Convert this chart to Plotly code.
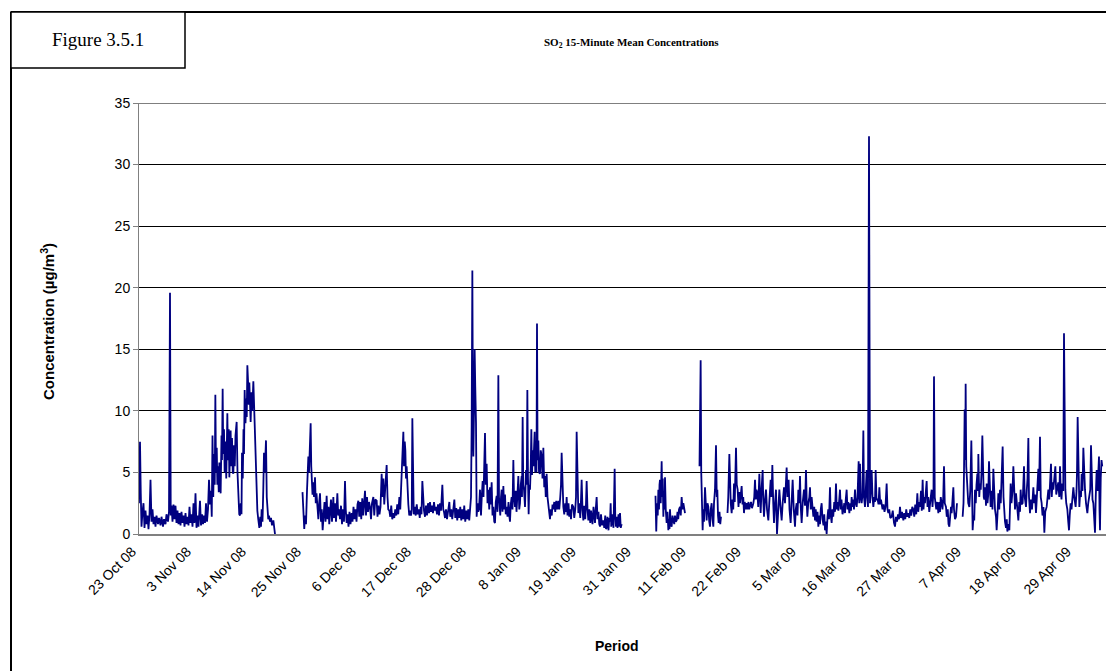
import plotly.graph_objects as go

# ---------------- data (x = day offset on the category axis from 23 Oct 08, y = SO2 µg/m3) -------------
tick_days = [0, 11, 22, 33, 44, 55, 66, 77, 88, 99, 110, 121, 132, 143, 154, 165, 176, 187]
tick_labels = ["23 Oct 08", "3 Nov 08", "14 Nov 08", "25 Nov 08", "6 Dec 08", "17 Dec 08",
               "28 Dec 08", "8 Jan 09", "19 Jan 09", "31 Jan 09", "11 Feb 09", "22 Feb 09",
               "5 Mar 09", "16 Mar 09", "27 Mar 09", "7 Apr 09", "18 Apr 09", "29 Apr 09"]

seg_a = [(0.0, 2.5), (0.2, 7.5), (0.35, 3.4), (0.5, 0.6), (0.7, 1.8), (0.9, 2.5), (1.1, 0.5), (1.3, 1.9),
         (1.5, 0.8), (1.7, 1.5), (1.9, 0.4), (2.1, 1.6), (2.3, 4.4), (2.5, 1.0), (2.7, 2.0), (2.9, 0.8),
         (3.1, 1.4), (3.3, 0.6), (3.5, 1.5), (3.8, 0.8), (4.0, 1.3), (4.3, 0.7), (4.5, 1.4), (4.8, 0.6),
         (5.0, 1.2), (5.3, 0.8), (5.5, 1.6), (5.8, 1.0), (6.0, 1.8), (6.2, 19.6), (6.35, 1.5), (6.5, 2.3),
         (6.7, 1.0), (6.9, 2.4), (7.1, 1.2), (7.3, 2.3), (7.5, 0.9), (7.7, 1.9), (7.9, 0.8), (8.1, 1.7),
         (8.3, 0.7), (8.5, 1.8), (8.7, 0.9), (8.9, 1.5), (9.1, 0.6), (9.3, 1.7), (9.5, 0.8), (9.7, 1.4),
         (9.9, 0.7), (10.1, 2.2), (10.3, 0.9), (10.5, 1.6), (10.7, 0.6), (10.9, 2.5), (11.1, 0.9),
         (11.3, 3.3), (11.5, 0.5), (11.7, 1.5), (11.9, 0.6), (12.2, 2.7), (12.4, 0.7), (12.6, 1.6),
         (12.8, 0.8), (13.0, 1.5), (13.2, 0.9), (13.4, 2.5), (13.6, 1.0), (13.8, 2.0), (14.0, 4.4),
         (14.2, 2.4), (14.4, 3.5), (14.55, 1.4), (14.7, 8.0), (14.85, 3.0), (15.0, 6.5), (15.15, 4.0),
         (15.27, 11.3), (15.4, 5.0), (15.55, 7.0), (15.67, 4.0), (15.8, 5.5), (15.95, 3.4), (16.07, 5.8),
         (16.2, 4.8), (16.33, 3.3), (16.5, 8.0), (16.6, 6.0), (16.73, 11.8), (16.85, 6.5), (17.0, 8.5),
         (17.13, 5.0), (17.3, 7.5), (17.45, 4.5), (17.55, 6.8), (17.67, 9.8), (17.8, 6.0), (17.95, 8.5),
         (18.07, 4.6), (18.2, 7.0), (18.33, 8.4), (18.45, 5.5), (18.6, 7.8), (18.75, 5.0), (18.87, 4.9),
         (19.0, 7.2), (19.15, 5.5), (19.3, 8.0), (19.53, 9.1), (19.7, 5.0), (19.87, 2.4), (20.05, 1.6),
         (20.2, 1.5), (20.35, 2.5), (20.5, 1.6), (20.6, 6.6), (20.75, 4.5), (20.9, 8.5), (21.0, 6.5),
         (21.13, 11.7), (21.3, 9.0), (21.45, 11.0), (21.55, 9.5), (21.67, 13.7), (21.8, 12.5), (21.95, 10.5),
         (22.07, 12.3), (22.2, 10.0), (22.33, 9.1), (22.5, 11.5), (22.65, 10.0), (22.87, 12.4), (23.0, 10.5),
         (23.2, 9.0), (23.4, 5.4), (23.55, 3.0), (23.67, 1.9), (23.85, 1.2), (24.07, 0.5), (24.25, 1.4),
         (24.4, 0.6), (24.53, 2.0), (24.7, 1.0), (24.85, 3.5), (25.0, 6.6), (25.15, 5.0), (25.4, 7.6),
         (25.55, 3.0), (25.67, 1.6), (25.85, 1.2), (26.0, 1.5), (26.2, 1.0), (26.4, 1.3), (26.6, 0.7),
         (26.87, 1.1), (27.0, 0.5), (27.2, 0.0)]

seg_b = [(32.7, 3.4), (32.9, 1.0), (33.05, 0.4), (33.2, 1.5), (33.4, 0.8), (33.6, 3.5), (33.75, 5.5),
         (33.87, 6.3), (34.0, 5.0), (34.15, 7.0), (34.33, 9.0), (34.45, 5.5), (34.53, 4.1), (34.7, 3.2),
         (34.85, 4.2), (35.0, 3.0), (35.2, 4.6), (35.35, 2.5), (35.5, 3.3), (35.7, 1.8), (35.87, 1.2),
         (36.05, 2.6), (36.2, 3.3), (36.4, 1.0), (36.55, 2.0), (36.73, 0.3), (36.9, 1.5), (37.1, 2.6),
         (37.3, 1.0), (37.53, 3.1), (37.7, 1.2), (37.9, 2.2), (38.05, 0.8), (38.2, 1.4), (38.4, 2.8),
         (38.6, 1.0), (38.87, 3.0), (39.0, 1.3), (39.2, 2.5), (39.4, 1.0), (39.67, 3.3), (39.85, 1.5),
         (40.0, 2.0), (40.2, 1.2), (40.4, 2.3), (40.6, 0.8), (40.8, 2.0), (41.0, 1.0), (41.2, 4.3),
         (41.35, 2.0), (41.53, 0.9), (41.7, 1.6), (41.9, 0.6), (42.1, 1.8), (42.3, 0.8), (42.53, 1.7),
         (42.7, 1.0), (42.9, 2.2), (43.1, 1.2), (43.3, 2.0), (43.5, 1.0), (43.7, 2.4), (43.87, 2.7),
         (44.05, 1.4), (44.25, 2.6), (44.45, 1.2), (44.65, 2.9), (44.85, 1.5), (45.0, 2.3), (45.2, 3.5),
         (45.4, 1.5), (45.6, 3.0), (45.8, 1.8), (46.0, 2.6), (46.2, 2.2), (46.4, 1.2), (46.6, 2.5),
         (46.87, 3.0), (47.05, 1.5), (47.25, 2.8), (47.53, 2.7), (47.7, 1.4), (47.9, 2.3), (48.1, 1.6),
         (48.3, 2.2), (48.53, 4.9), (48.7, 3.0), (48.87, 4.5), (49.05, 2.4), (49.25, 3.5), (49.53, 5.6),
         (49.7, 3.0), (49.85, 2.0), (50.07, 1.9), (50.25, 1.4), (50.45, 2.3), (50.65, 1.2), (50.87, 1.7),
         (51.05, 1.3), (51.25, 2.0), (51.45, 1.5), (51.65, 2.4), (51.85, 1.6), (52.07, 3.0), (52.25, 2.0),
         (52.4, 3.5), (52.53, 4.9), (52.7, 6.0), (52.87, 8.3), (53.0, 5.5), (53.15, 7.5), (53.27, 6.8),
         (53.4, 4.5), (53.53, 5.5), (53.7, 3.5), (53.87, 2.4), (54.05, 1.5), (54.2, 1.9), (54.4, 1.5),
         (54.55, 2.0), (54.67, 9.4), (54.8, 2.5), (54.95, 1.6), (55.15, 2.2), (55.35, 1.5), (55.55, 2.4),
         (55.75, 1.6), (55.95, 2.0), (56.15, 1.3), (56.35, 2.2), (56.5, 1.6), (56.67, 4.3), (56.85, 2.5),
         (57.0, 1.9), (57.2, 1.4), (57.4, 2.3), (57.6, 1.5), (57.8, 2.5), (58.0, 1.7), (58.2, 2.6),
         (58.4, 1.8), (58.6, 2.3), (58.8, 1.7), (59.0, 2.6), (59.2, 1.9), (59.4, 2.2), (59.6, 1.6),
         (59.8, 2.4), (60.0, 1.5), (60.2, 2.5), (60.4, 1.9), (60.67, 4.0), (60.85, 2.0), (61.0, 1.8),
         (61.2, 1.3), (61.4, 2.0), (61.6, 1.2), (61.8, 1.9), (62.07, 2.6), (62.25, 1.4), (62.45, 2.0),
         (62.65, 1.2), (62.85, 1.8), (63.07, 2.8), (63.25, 1.3), (63.45, 2.1), (63.65, 1.1), (63.85, 2.0),
         (64.05, 1.3), (64.25, 2.2), (64.45, 1.1), (64.65, 2.0), (64.85, 1.2), (65.05, 2.3), (65.25, 1.0),
         (65.45, 1.9), (65.65, 1.2), (65.85, 2.0), (66.05, 1.1), (66.25, 2.4), (66.4, 3.0), (66.53, 8.7),
         (66.67, 21.4), (66.8, 8.0), (66.87, 6.3), (67.0, 10.0), (67.13, 15.0), (67.25, 12.0), (67.4, 9.0),
         (67.53, 1.4), (67.7, 2.5), (67.85, 1.8), (68.0, 2.0), (68.2, 3.6), (68.4, 1.5), (68.55, 3.0),
         (68.73, 4.3), (68.9, 3.0), (69.05, 5.0), (69.2, 8.2), (69.35, 4.0), (69.53, 5.7), (69.7, 2.5),
         (69.87, 3.6), (70.05, 2.0), (70.2, 3.8), (70.35, 2.4), (70.53, 4.2), (70.7, 1.5), (70.87, 2.2),
         (71.05, 1.0), (71.2, 0.9), (71.35, 2.6), (71.53, 3.1), (71.7, 1.8), (71.87, 12.9), (72.0, 3.0),
         (72.07, 2.4), (72.25, 1.5), (72.4, 3.0), (72.53, 3.6), (72.7, 1.8), (72.87, 3.9), (73.05, 2.0),
         (73.2, 3.2), (73.35, 1.6), (73.53, 2.2), (73.7, 1.4), (73.9, 2.6), (74.05, 1.5), (74.2, 1.0),
         (74.35, 2.4), (74.53, 3.0), (74.7, 2.0), (74.87, 6.0), (75.0, 3.0), (75.2, 2.2), (75.35, 3.5),
         (75.5, 1.8), (75.7, 3.3), (75.87, 4.7), (76.05, 2.0), (76.2, 2.5), (76.35, 4.0), (76.53, 4.7),
         (76.6, 3.0), (76.73, 9.5), (76.85, 4.0), (77.0, 3.6), (77.2, 2.2), (77.4, 5.2), (77.55, 4.0),
         (77.67, 11.7), (77.8, 4.5), (77.93, 1.6), (78.05, 4.0), (78.2, 3.6), (78.35, 5.5), (78.47, 8.5),
         (78.6, 4.8), (78.75, 6.8), (78.87, 5.5), (79.0, 7.0), (79.13, 8.3), (79.25, 5.0), (79.4, 6.8),
         (79.5, 5.0), (79.6, 17.1), (79.72, 6.0), (79.87, 7.6), (80.0, 5.0), (80.2, 4.9), (80.35, 6.8),
         (80.53, 6.3), (80.7, 4.5), (80.87, 7.0), (81.05, 3.8), (81.2, 4.7), (81.35, 3.0), (81.53, 4.9),
         (81.7, 3.0), (81.87, 2.2), (82.05, 1.6), (82.2, 1.2), (82.35, 2.0), (82.55, 1.5), (82.7, 2.4),
         (82.87, 2.0), (83.05, 2.6), (83.25, 1.8), (83.45, 2.7), (83.65, 2.0), (83.87, 2.7), (84.05, 2.0),
         (84.25, 3.0), (84.4, 4.0), (84.53, 6.6), (84.7, 3.5), (84.87, 2.2), (85.05, 1.6), (85.25, 2.5),
         (85.4, 1.8), (85.53, 3.0), (85.7, 1.5), (85.9, 2.5), (86.05, 1.4), (86.2, 2.0), (86.4, 1.2),
         (86.6, 2.4), (86.87, 2.2), (87.05, 1.3), (87.25, 2.0), (87.4, 3.0), (87.53, 8.3), (87.7, 2.5),
         (87.87, 1.7), (88.05, 2.5), (88.25, 1.3), (88.4, 2.8), (88.53, 4.4), (88.7, 2.0), (88.87, 1.1),
         (89.05, 2.3), (89.25, 1.2), (89.4, 2.5), (89.53, 4.3), (89.7, 2.0), (89.87, 1.1), (90.05, 2.0),
         (90.25, 0.9), (90.4, 1.9), (90.53, 1.5), (90.7, 0.8), (90.9, 2.2), (91.05, 1.0), (91.2, 0.9),
         (91.35, 2.0), (91.53, 3.0), (91.7, 1.2), (91.9, 1.8), (92.05, 0.8), (92.2, 0.6), (92.4, 1.6),
         (92.6, 0.7), (92.87, 1.1), (93.05, 0.5), (93.25, 1.5), (93.4, 0.4), (93.53, 0.5), (93.7, 1.4),
         (93.9, 0.3), (94.05, 1.3), (94.2, 1.0), (94.33, 2.5), (94.45, 0.6), (94.53, 0.9), (94.7, 1.6),
         (94.9, 0.5), (95.0, 2.5), (95.13, 5.3), (95.25, 1.5), (95.4, 0.6), (95.53, 1.4), (95.7, 0.5),
         (95.9, 1.6), (96.05, 0.6), (96.2, 1.7), (96.35, 0.5), (96.53, 0.8)]

seg_c = [(103.3, 3.1), (103.45, 0.2), (103.6, 2.5), (103.75, 1.5), (103.87, 3.6), (104.0, 2.0), (104.1, 4.0),
         (104.2, 4.4), (104.35, 2.5), (104.45, 4.8), (104.53, 5.9), (104.65, 3.0), (104.75, 4.5),
         (104.87, 1.4), (105.0, 3.5), (105.1, 2.0), (105.2, 4.6), (105.35, 2.0), (105.45, 1.0), (105.53, 0.9),
         (105.7, 1.8), (105.87, 0.3), (106.0, 1.2), (106.1, 0.4), (106.2, 2.0), (106.35, 0.8), (106.53, 0.6),
         (106.7, 1.5), (106.87, 1.1), (107.05, 0.8), (107.2, 1.5), (107.35, 1.0), (107.53, 1.1), (107.7, 1.8),
         (107.85, 1.2), (108.0, 2.0), (108.2, 2.2), (108.35, 1.5), (108.53, 3.0), (108.7, 2.0), (108.87, 2.5),
         (109.05, 1.8), (109.2, 1.7)]

seg_d = [(112.1, 5.5), (112.33, 14.1), (112.45, 5.0), (112.53, 4.1), (112.65, 1.5), (112.73, 0.3),
         (112.85, 2.0), (113.0, 1.0), (113.2, 3.8), (113.35, 2.0), (113.53, 1.1), (113.7, 2.5), (113.87, 2.2),
         (114.05, 1.0), (114.2, 0.6), (114.35, 2.0), (114.53, 2.5), (114.7, 1.2), (114.87, 0.6), (115.0, 2.5),
         (115.2, 3.6), (115.4, 7.2), (115.55, 3.0), (115.67, 3.6), (115.8, 1.5), (115.93, 0.9), (116.1, 1.8),
         (116.25, 0.8), (116.4, 1.4)]

seg_e = [(117.7, 1.7), (117.85, 3.0), (118.07, 6.5), (118.2, 3.5), (118.35, 2.5), (118.53, 1.7), (118.7, 2.8),
         (118.85, 2.0), (119.0, 4.1), (119.15, 2.6), (119.3, 4.5), (119.4, 7.0), (119.55, 4.0), (119.73, 3.6),
         (119.9, 2.2), (120.05, 3.4), (120.2, 2.5), (120.35, 3.2), (120.53, 3.9), (120.7, 2.4), (120.85, 3.0),
         (121.0, 1.7), (121.15, 2.6), (121.35, 2.0), (121.53, 2.5), (121.7, 2.0), (121.9, 2.6), (122.05, 2.0),
         (122.2, 2.2), (122.4, 2.6), (122.6, 2.1), (122.87, 2.5), (123.05, 3.0), (123.2, 4.4), (123.35, 2.8),
         (123.5, 3.6), (123.67, 3.3), (123.85, 2.2), (124.07, 4.9), (124.2, 3.0), (124.33, 1.7), (124.5, 3.5),
         (124.73, 5.2), (124.85, 2.8), (125.0, 1.4), (125.2, 2.8), (125.4, 3.6), (125.6, 2.0), (125.87, 1.1),
         (126.05, 2.5), (126.2, 3.2), (126.33, 4.4), (126.5, 3.0), (126.67, 5.6), (126.85, 2.5), (127.0, 0.9),
         (127.2, 2.5), (127.4, 3.6), (127.6, 0.0), (127.8, 2.0), (128.07, 3.6), (128.3, 2.2), (128.53, 1.1),
         (128.75, 2.6), (129.0, 3.8), (129.2, 2.5), (129.35, 4.0), (129.53, 5.4), (129.7, 3.0), (129.93, 4.4),
         (130.1, 2.0), (130.33, 0.9), (130.55, 2.8), (130.73, 4.4), (130.95, 2.0), (131.2, 0.6), (131.35, 2.0),
         (131.53, 2.5), (131.7, 1.5), (131.87, 3.6), (132.05, 2.5), (132.2, 4.7), (132.35, 2.2), (132.53, 0.9),
         (132.75, 2.6), (133.0, 3.6), (133.2, 2.3), (133.4, 5.2), (133.55, 2.5), (133.67, 1.4), (133.85, 2.5),
         (134.07, 3.0), (134.2, 3.8), (134.35, 2.0), (134.53, 3.0), (134.7, 1.8), (134.87, 1.4), (135.05, 2.2),
         (135.2, 1.1), (135.35, 2.0), (135.5, 1.0), (135.7, 1.8), (135.87, 0.6), (136.05, 1.5), (136.2, 0.8),
         (136.35, 2.0), (136.53, 2.5), (136.7, 1.2), (136.9, 0.7), (137.05, 1.6), (137.2, 0.3), (137.35, 1.0),
         (137.53, 0.0), (137.7, 1.4), (137.85, 2.0), (138.0, 1.2), (138.2, 3.8), (138.35, 1.5), (138.53, 0.9),
         (138.7, 2.0), (138.85, 1.4), (139.05, 2.6), (139.2, 1.8), (139.4, 4.1), (139.55, 2.0), (139.7, 2.6),
         (139.87, 1.9), (140.05, 2.8), (140.2, 3.6), (140.35, 2.0), (140.5, 2.8), (140.7, 1.6), (140.87, 1.9),
         (141.05, 2.5), (141.2, 1.7), (141.35, 2.8), (141.53, 3.6), (141.7, 2.0), (141.85, 2.6), (142.07, 1.7),
         (142.25, 2.5), (142.4, 1.9), (142.53, 3.0), (142.7, 2.2), (142.85, 2.8), (143.0, 2.0), (143.2, 3.6),
         (143.35, 2.5), (143.53, 2.2), (143.7, 3.0), (143.8, 5.9), (143.93, 5.9), (144.05, 2.5), (144.2, 5.7),
         (144.35, 3.0), (144.53, 2.5), (144.7, 3.2), (144.87, 8.4), (145.0, 3.0), (145.2, 2.2), (145.35, 3.5),
         (145.53, 5.2), (145.65, 3.0), (145.8, 2.2), (146.0, 32.3), (146.1, 2.8), (146.2, 2.5), (146.35, 3.5),
         (146.53, 5.2), (146.7, 3.0), (146.87, 2.2), (147.05, 3.0), (147.2, 2.6), (147.33, 5.2), (147.5, 2.8),
         (147.73, 2.8), (147.9, 2.4), (148.07, 3.8), (148.25, 2.4), (148.4, 2.8), (148.53, 2.5), (148.7, 2.0),
         (148.9, 2.4), (149.1, 1.8), (149.3, 2.2), (149.53, 4.1), (149.7, 2.0), (149.87, 1.7), (150.05, 2.0),
         (150.25, 1.3), (150.53, 1.4), (150.75, 1.9), (151.0, 0.9), (151.2, 0.6), (151.4, 1.4), (151.6, 1.0),
         (151.8, 1.6), (152.0, 1.2), (152.2, 2.2), (152.4, 1.3), (152.6, 1.8), (152.87, 1.1), (153.05, 1.7),
         (153.25, 1.2), (153.45, 2.0), (153.65, 1.4), (153.87, 1.7), (154.05, 1.3), (154.25, 2.0), (154.45, 1.5),
         (154.65, 2.2), (154.87, 2.0), (155.05, 1.4), (155.25, 2.4), (155.45, 1.6), (155.67, 3.3), (155.85, 1.8),
         (156.05, 2.6), (156.2, 2.2), (156.4, 3.5), (156.55, 1.9), (156.73, 4.4), (156.9, 2.0), (157.05, 3.0),
         (157.2, 2.5), (157.35, 3.5), (157.53, 4.3), (157.7, 2.2), (157.85, 3.0), (158.05, 1.8), (158.2, 2.2),
         (158.35, 3.0), (158.53, 3.6), (158.7, 2.2), (158.9, 3.5), (159.0, 12.8), (159.15, 3.0), (159.27, 2.5),
         (159.45, 2.0), (159.65, 2.6), (159.87, 1.7), (160.05, 2.6), (160.2, 1.8), (160.35, 3.0), (160.53, 2.5),
         (160.7, 2.0), (160.85, 3.0), (161.0, 5.5), (161.15, 2.5), (161.4, 2.2), (161.55, 1.4), (161.75, 2.0),
         (161.9, 0.8), (162.07, 0.6), (162.25, 1.5), (162.4, 2.2), (162.53, 1.7), (162.7, 2.8), (162.87, 3.8),
         (163.0, 2.0), (163.2, 1.2), (163.4, 1.4), (163.6, 2.5)]

seg_f = [(164.73, 1.4), (164.9, 2.5), (165.0, 5.0), (165.13, 10.1), (165.25, 6.0), (165.33, 12.2),
         (165.45, 5.5), (165.67, 3.6), (165.85, 2.5), (166.07, 2.2), (166.25, 3.5), (166.47, 7.6), (166.6, 2.0),
         (166.73, 0.3), (166.9, 1.5), (167.05, 1.1), (167.2, 3.6), (167.35, 2.5), (167.5, 4.0), (167.67, 4.9),
         (167.8, 3.5), (167.87, 6.5), (168.05, 3.0), (168.2, 4.1), (168.35, 3.6), (168.5, 5.0), (168.67, 8.0),
         (168.8, 4.0), (168.95, 3.0), (169.07, 2.8), (169.25, 3.8), (169.4, 2.3), (169.53, 4.1), (169.7, 2.5),
         (169.85, 3.2), (170.0, 5.9), (170.15, 3.0), (170.33, 2.2), (170.5, 3.5), (170.7, 2.0), (170.87, 5.3),
         (171.05, 3.0), (171.2, 2.0), (171.4, 1.4), (171.53, 0.3), (171.7, 1.6), (171.87, 3.3), (172.05, 2.0),
         (172.2, 3.6), (172.35, 2.5), (172.53, 6.0), (172.73, 7.1), (172.9, 3.0), (173.05, 1.8), (173.2, 1.0),
         (173.4, 0.5), (173.55, 1.2), (173.67, 0.2), (173.85, 0.8), (174.07, 0.3), (174.2, 2.0), (174.33, 4.1),
         (174.5, 2.5), (174.7, 3.5), (174.87, 5.5), (175.05, 3.0), (175.2, 2.0), (175.4, 3.3), (175.6, 2.0),
         (175.87, 1.1), (176.05, 2.6), (176.2, 1.8), (176.33, 3.6), (176.5, 2.4), (176.73, 2.5), (176.85, 3.5),
         (177.0, 5.5), (177.15, 3.0), (177.4, 2.2), (177.55, 3.5), (177.7, 4.5), (177.87, 7.8), (178.0, 3.0),
         (178.2, 1.7), (178.4, 2.8), (178.6, 2.0), (178.87, 3.8), (179.05, 2.5), (179.2, 3.2), (179.4, 1.7),
         (179.6, 3.0), (179.87, 5.3), (180.0, 3.5), (180.2, 7.9), (180.35, 3.0), (180.53, 2.5), (180.7, 1.5),
         (180.9, 2.2), (181.07, 0.1), (181.25, 1.8), (181.53, 2.2), (181.7, 3.0), (181.87, 3.6), (182.05, 2.8),
         (182.2, 4.5), (182.4, 5.7), (182.55, 3.0), (182.7, 4.2), (182.87, 3.6), (183.05, 4.5), (183.27, 5.5),
         (183.45, 3.2), (183.67, 3.6), (183.85, 4.2), (184.05, 3.0), (184.2, 5.5), (184.35, 3.5), (184.5, 2.8),
         (184.67, 4.1), (184.85, 3.5), (185.0, 16.3), (185.12, 4.0), (185.27, 3.6), (185.45, 2.5), (185.67, 2.0),
         (185.85, 1.0), (186.0, 0.3), (186.15, 1.5), (186.33, 2.5), (186.5, 2.0), (186.7, 3.0), (186.87, 3.8),
         (187.05, 3.0), (187.2, 2.5), (187.33, 2.2), (187.5, 3.5), (187.6, 5.0), (187.73, 9.5), (187.9, 3.0),
         (188.07, 2.2), (188.25, 3.5), (188.4, 3.0), (188.53, 4.9), (188.7, 3.5), (188.87, 7.0), (189.05, 4.0),
         (189.2, 3.6), (189.4, 2.5), (189.55, 2.0), (189.67, 1.7), (189.85, 2.5), (190.07, 3.0), (190.25, 3.6),
         (190.4, 7.2), (190.55, 3.5), (190.7, 2.8), (190.87, 2.5), (191.05, 1.5), (191.2, 0.1), (191.35, 3.0),
         (191.53, 5.2), (191.7, 3.5), (191.85, 4.5), (192.0, 6.3), (192.1, 2.0), (192.2, 0.3), (192.35, 4.6),
         (192.5, 6.0), (192.65, 5.5)]

segments = [seg_a, seg_b, seg_c, seg_d, seg_e, seg_f]

xs, ys = [], []
for seg in segments:
    for d, v in seg:
        xs.append(d)
        ys.append(v)
    xs.append(None)
    ys.append(None)

# ---------------- layout geometry (pixels) ----------------
W, H = 1106, 671
L, R, T, B = 139, 1106, 103, 534


def px(x):
    return (x - L) / (R - L)


def py(y):
    return (B - y) / (B - T)


fig = go.Figure()
fig.add_trace(go.Scatter(x=xs, y=ys, mode="lines", connectgaps=False,
                         line=dict(color="#000080", width=1.8), hoverinfo="skip"))

axis_font = dict(family="Liberation Sans, Arial, sans-serif", size=14, color="black")

fig.update_layout(
    width=W, height=H,
    margin=dict(l=L, r=W - R, t=T, b=H - B, pad=0),
    paper_bgcolor="white", plot_bgcolor="white",
    showlegend=False,
    xaxis=dict(range=[0, (R - L) / 5.0], tickmode="array", tickvals=tick_days, ticktext=tick_labels,
               tickangle=-45, tickfont=axis_font, showgrid=False, zeroline=False,
               showline=True, linecolor="#808080", linewidth=2, ticks="",
               ticklabelshift=-7, ticklabelstandoff=2),
    yaxis=dict(range=[0, 35], dtick=5, tickfont=axis_font, showgrid=True, gridcolor="black",
               gridwidth=1, zeroline=False, showline=True, linecolor="#808080", linewidth=1,
               ticks="outside", ticklen=5, tickcolor="#808080"),
)

shapes = [
    # gridline at the top of the value range (35)
    dict(type="line", xref="paper", yref="y", x0=0, x1=1, y0=35, y1=35,
         line=dict(color="black", width=1)),
    # outer chart frame (left and top edges)
    dict(type="line", xref="paper", yref="paper", x0=px(11), x1=px(11), y0=py(12), y1=py(H + 5),
         line=dict(color="black", width=2)),
    dict(type="line", xref="paper", yref="paper", x0=px(11), x1=px(W + 5), y0=py(12), y1=py(12),
         line=dict(color="black", width=2)),
    # "Figure" label box
    dict(type="rect", xref="paper", yref="paper", x0=px(11), x1=px(185), y0=py(12), y1=py(68),
         line=dict(color="black", width=1.5), fillcolor="white"),
]
fig.update_layout(shapes=shapes)

annotations = [
    dict(text="Figure 3.5.1", x=px(98), y=py(40), xref="paper", yref="paper", showarrow=False,
         xanchor="center", yanchor="middle",
         font=dict(family="Liberation Serif, Times New Roman, serif", size=19, color="black")),
    dict(text="<b>SO<sub>2</sub> 15-Minute Mean Concentrations</b>", x=px(631), y=py(43), xref="paper",
         yref="paper", showarrow=False, xanchor="center", yanchor="middle",
         font=dict(family="Liberation Serif, Times New Roman, serif", size=11, color="black")),
    dict(text="<b>Concentration (µg/m<sup>3</sup>)</b>", x=px(47), y=py(322), xref="paper", yref="paper",
         showarrow=False, textangle=-90, xanchor="center", yanchor="middle",
         font=dict(family="Liberation Sans, Arial, sans-serif", size=15, color="black")),
    dict(text="<b>Period</b>", x=px(617), y=py(646), xref="paper", yref="paper", showarrow=False,
         xanchor="center", yanchor="middle",
         font=dict(family="Liberation Sans, Arial, sans-serif", size=14, color="black")),
]
fig.update_layout(annotations=annotations)

fig.write_html("out.html")
